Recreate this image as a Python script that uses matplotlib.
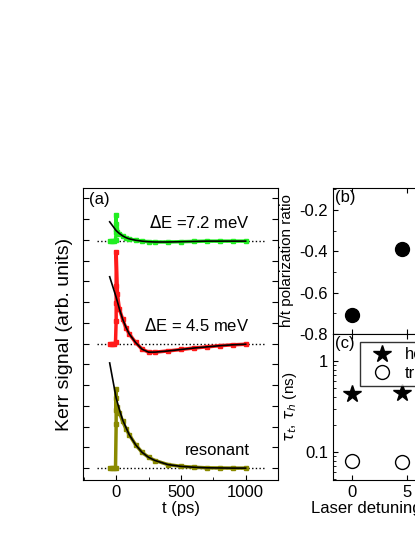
import numpy as np
from matplotlib import pyplot as plt

plt.rcParams['font.family'] = ['Liberation Sans', 'DejaVu Sans']
plt.rcParams['font.size'] = 12

# panel (a): time axis (ps) and signals relative to their baselines
t_data = [-50, -30, -15, -5, 0, 0, 0, 0, 10, 25, 50, 75, 100, 150, 200, 250, 300, 400, 500, 600, 700, 800, 900, 1000]
t_fit = [-50, 0, 25, 50, 75, 100, 150, 200, 250, 300, 400, 500, 600, 700, 800, 900, 1000]

res_data = [0, 0, 0, 0, 15, 27, 24, 20, 21, 19, 16, 13.5, 11.5, 8, 5.4, 3.7, 2.6, 1.2, 0.6, 0.3, 0.1, 0.05, 0, 0]
res_fit = [36, 24, 20, 16.5, 14, 11.5, 8, 5.4, 3.7, 2.6, 1.2, 0.6, 0.3, 0.1, 0.05, 0, 0]

red_data = [0, 0, 0, 0.5, 8, 14, 20, 31.5, 17, 12, 8.5, 5.5, 3.5, 0.5, -1.8, -2.8, -2.8, -2.4, -1.9, -1.4, -1, -0.6, -0.3, -0.1]
red_fit = [23, 16, 12, 8.5, 5.8, 3.5, 0.5, -1.8, -2.8, -2.8, -2.4, -1.9, -1.4, -1, -0.6, -0.3, -0.1]

grn_data = [0, 0, 0, 0.5, 3, 9, 6, 4, 3.2, 2.6, 1.8, 1.2, 0.8, 0.3, 0, -0.2, -0.3, -0.3, -0.2, -0.1, 0, 0, 0, 0]
grn_fit = [6.6, 3.6, 2.6, 1.8, 1.2, 0.8, 0.3, 0, -0.2, -0.3, -0.3, -0.2, -0.1, 0, 0, 0, 0]

offsets = [4.1, 46.6, 81.8]
colors = ['#8a8a00', '#ff1a1a', '#22ee22']
labels = ['resonant', '$\\Delta$E = 4.5 meV', '$\\Delta$E =7.2 meV']

# panels (b), (c)
detuning = [0, 4.5]
ratio = [-0.71, -0.39]
tau_hole = [0.43, 0.45]
tau_trion = [0.080, 0.077]

fig = plt.figure(figsize=(4.15, 5.37), dpi=100)
ax = fig.add_axes([0.2, 0.106, 0.47, 0.544])
series = [(res_data, res_fit), (red_data, red_fit), (grn_data, grn_fit)]
for (d, f), off, c, lab in zip(series, offsets, colors, labels):
    ax.plot([-150, 1150], [off, off], ':', color='k', lw=1)
    ax.plot(t_data, np.array(d) + off, '-s', color=c, lw=2.5, ms=3)
    ax.plot(t_fit, np.array(f) + off, '-', color='k', lw=1.2)
    ax.text(1030, off + 3.5, lab, ha='right', va='bottom')
ax.set_xlim(-256, 1250)
ax.set_ylim(0, 100)
ax.set_xticks([0, 500, 1000])
ax.set_xticks([-250, 250, 750, 1250], minor=True)
ax.set_yticks(np.arange(4.1, 100, 7.1))
ax.set_yticklabels([])
ax.tick_params(direction='in', which='both', right=True)
ax.tick_params(axis='y', length=4)
ax.set_xlabel('t (ps)', labelpad=1)
ax.set_ylabel('Kerr signal (arb. units)', fontsize=14)
ax.text(0.03, 0.985, '(a)', transform=ax.transAxes, va='top')

axb = fig.add_axes([0.802, 0.378, 0.284, 0.272])
axb.plot(detuning, ratio, 'o', color='k', ms=10)
axb.set_xlim(-1.8, 9)
axb.set_ylim(-0.8, -0.093)
axb.set_yticks([-0.8, -0.6, -0.4, -0.2])
axb.set_yticklabels(['-0.8', '-0.6', '-0.4', '-0.2'])
axb.set_yticks(np.arange(-0.7, -0.09, 0.2), minor=True)
axb.set_xticks([0, 5])
axb.set_xticklabels([])
axb.tick_params(direction='in', which='both', top=True)
axb.set_ylabel('h/t polarization ratio', fontsize=11)
axb.text(0.02, 0.985, '(b)', transform=axb.transAxes, va='top')

axc = fig.add_axes([0.802, 0.106, 0.284, 0.272])
axc.semilogy(detuning, tau_hole, '*', color='k', ms=13, label='hole')
axc.semilogy(detuning, tau_trion, 'o', mfc='white', mec='k', ms=10, label='trion')
axc.set_xlim(-1.8, 9)
axc.set_ylim(0.049, 1.98)
axc.set_yticks([0.1, 1])
axc.set_yticklabels(['0.1', '1'])
axc.set_xticks([0, 5])
axc.tick_params(direction='in', which='both', top=True)
axc.set_xlabel('Laser detuning (meV)', labelpad=1)
axc.set_ylabel('$\\tau_t$, $\\tau_h$ (ns)', fontsize=11)
axc.text(0.02, 0.985, '(c)', transform=axc.transAxes, va='top')
axc.legend(loc='upper left', bbox_to_anchor=(0.16, 1.0), frameon=True, fancybox=False,
           edgecolor='k', borderpad=0.3, handletextpad=0.4, labelspacing=0.2, fontsize=12)

fig.savefig('out.png', dpi=100)
